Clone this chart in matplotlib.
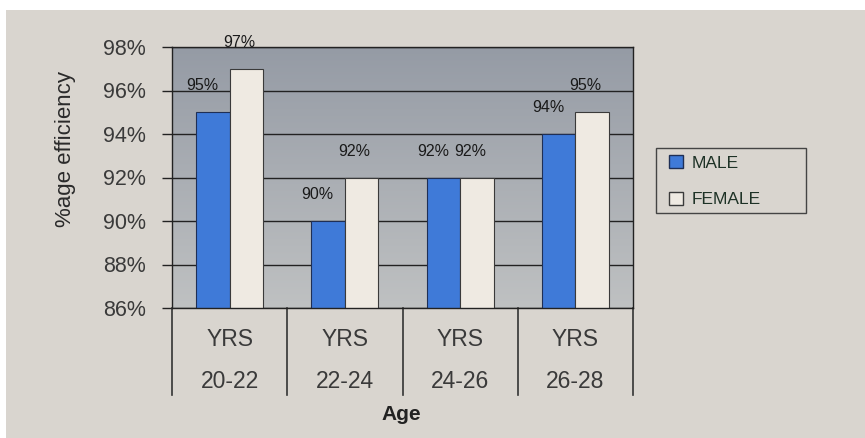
import numpy as np
import matplotlib.pyplot as plt
from matplotlib.patches import Rectangle, Patch
from matplotlib.colors import LinearSegmentedColormap
from matplotlib.transforms import blended_transform_factory

plt.rcParams['font.family'] = ['Liberation Sans', 'DejaVu Sans']

# data
age_groups = ['20-22', '22-24', '24-26', '26-28']
male = [95, 90, 92, 94]
female = [97, 92, 92, 95]
yticks = [86, 88, 90, 92, 94, 96, 98]

W, H = 865, 438
panel = '#d9d5cf'
fig = plt.figure(figsize=(W / 100, H / 100), dpi=100, facecolor='white')
# screen panel behind the chart
fig.patches.append(Rectangle((6 / W, 0), 1, 1 - 10 / H, transform=fig.transFigure,
                             facecolor=panel, edgecolor='none', zorder=-10))

ax = fig.add_axes([172 / W, 1 - 308 / H, (633 - 172) / W, (308 - 47) / H])
x = np.arange(len(age_groups))
bw = 0.29

# gradient plot area
grad = np.linspace(0, 1, 256).reshape(-1, 1)
cmap = LinearSegmentedColormap.from_list('bg', ['#bfc1c2', '#959ba5'])
ax.imshow(grad, aspect='auto', cmap=cmap, origin='lower',
          extent=[-0.5, 3.5, 86, 98], zorder=0)

for t in yticks:
    ax.axhline(t, color='#222222', lw=1.0, zorder=1)

ax.bar(x - bw / 2, male, bw, color='#3f7ad8', edgecolor='#1f2f55', lw=0.8, zorder=2)
ax.bar(x + bw / 2, female, bw, color='#efeae2', edgecolor='#3a3a3a', lw=0.8, zorder=2)

# value labels, nudged left like the original
for xs, vals, dx in ((x - bw / 2, male, -7.5), (x + bw / 2, female, -5)):
    for xi, v in zip(xs, vals):
        ax.annotate(f'{v}%', (xi, v), xytext=(dx, 19), textcoords='offset points',
                    ha='center', va='center', fontsize=11.5, color='#1a1a1a',
                    annotation_clip=False)

ax.set_xlim(-0.5, 3.5)
ax.set_ylim(86, 98)
ax.set_yticks(yticks)
ax.set_yticklabels([f'{t}%' for t in yticks], fontsize=15.5, color='#3a3a3a')
ax.tick_params(axis='y', length=7, width=1, color='#222222', pad=12)
ax.set_xticks([])
for s in ax.spines.values():
    s.set_color('#222222')
    s.set_linewidth(1.0)

# category table below the axis
tr = blended_transform_factory(ax.transData, ax.transAxes)
for b in np.arange(-0.5, 4, 1):
    ax.plot([b, b], [0, -(395 - 308) / 261], color='#333333', lw=1.2,
            transform=tr, clip_on=False)
for xi, g in zip(x, age_groups):
    ax.text(xi, -(340 - 308) / 261, 'YRS', transform=tr, ha='center', va='center',
            fontsize=16.5, color='#3a3a3a')
    ax.text(xi, -(382 - 308) / 261, g, transform=tr, ha='center', va='center',
            fontsize=16.5, color='#3a3a3a')

fig.text(401 / W, 1 - 414 / H, 'Age', ha='center', va='center', fontsize=15,
         fontweight='bold', color='#222222')
fig.text(66 / W, 1 - 149 / H, '%age efficiency', ha='center', va='center',
         rotation=90, fontsize=16, color='#2a2a2a')

# legend box
fig.patches.append(Rectangle((656 / W, 1 - 213 / H), 150 / W, 65 / H,
                             transform=fig.transFigure, facecolor=panel,
                             edgecolor='#444444', lw=1.0, zorder=1))
handles = [Patch(facecolor='#3f7ad8', edgecolor='#1f2f55', label='MALE'),
           Patch(facecolor='#efeae2', edgecolor='#3a3a3a', label='FEMALE')]
leg = fig.legend(handles=handles, loc='upper left', bbox_to_anchor=(664 / W, 1 - 150 / H),
                 frameon=False, fontsize=12.5, handlelength=0.8, handleheight=0.8,
                 borderpad=0.3, labelspacing=1.2, handletextpad=0.5, borderaxespad=0)
for t in leg.get_texts():
    t.set_color('#1e3226')

fig.savefig('out.png', dpi=100)
